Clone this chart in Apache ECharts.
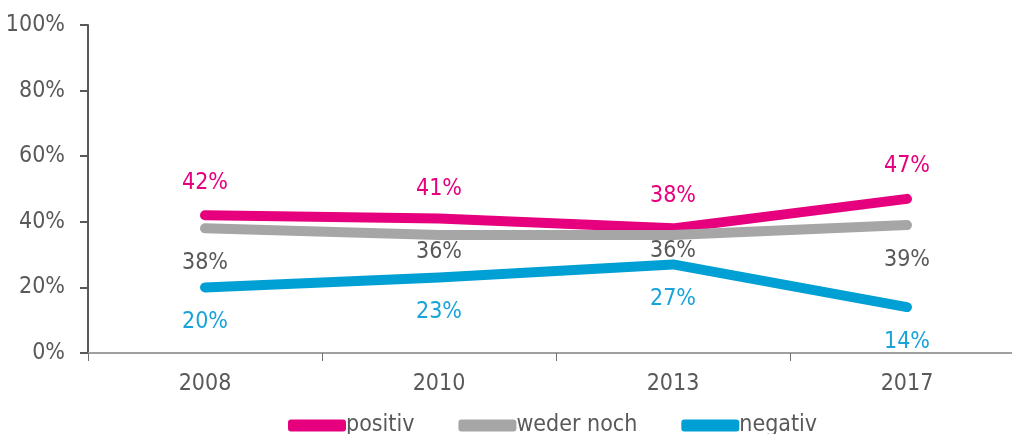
<!DOCTYPE html>
<html><head><meta charset="utf-8">
<script src="https://cdn.jsdelivr.net/npm/echarts@6/dist/echarts.min.js"></script>
<style>html,body{margin:0;padding:0;background:#fff;overflow:hidden;width:1012px;height:434px}#c{width:1024px;height:434px}</style>
</head><body><div id="c"></div>
<script>
const categories = ['2008', '2010', '2013', '2017'];
const positiv = [42, 41, 38, 47];
const wederNoch = [38, 36, 36, 39];
const negativ = [20, 23, 27, 14];
const yTicks = [0, 20, 40, 60, 80, 100];

const FONT = '"DejaVu Sans Condensed", "Liberation Sans Narrow", "Liberation Sans", Arial, sans-serif';
const chart = echarts.init(document.getElementById('c'), null, {renderer: 'canvas'});

const COLORS = {positiv: '#e6007e', 'weder noch': '#a6a6a6', negativ: '#009fd4'};

function mkSeries(name, data, labelColor, pos, dist, overrides) {
  const color = COLORS[name];
  return {
    name, type: 'line', data: data.map((v, i) => {
      const o = {value: v};
      if (overrides && overrides[i] != null) o.label = {distance: overrides[i]};
      return o;
    }),
    symbol: 'circle', symbolSize: 2, showSymbol: true,
    lineStyle: {color, width: 10, cap: 'round', join: 'round'},
    itemStyle: {color: 'rgba(0,0,0,0)'},
    label: {show: true, position: pos, distance: dist, formatter: '{c}%', color: labelColor,
      fontFamily: FONT, fontSize: 23},
    labelLayout: {hideOverlap: false},
    emphasis: {disabled: true}
  };
}

chart.setOption({
  animation: false,
  grid: {left: 88, right: 0, top: 25, bottom: 81, containLabel: false},
  legend: {
    top: 409, left: 283, itemGap: 44, itemWidth: 58, itemHeight: 12,
    icon: 'roundRect',
    textStyle: {fontFamily: FONT, fontSize: 23, color: '#595959', padding: [0, 0, 0, -5]},
    data: Object.keys(COLORS).map(n => ({name: n, itemStyle: {color: COLORS[n]}}))
  },
  xAxis: {
    type: 'category', data: categories, boundaryGap: true,
    axisLine: {lineStyle: {color: '#a0a0a0', width: 2}},
    axisTick: {show: true, length: 8, lineStyle: {color: '#707070', width: 1}},
    axisLabel: {fontFamily: FONT, fontSize: 23, color: '#595959', margin: 20}
  },
  yAxis: {
    type: 'value', min: 0, max: 100, interval: 20,
    splitLine: {show: false},
    axisLine: {show: true, lineStyle: {color: '#595959', width: 2}},
    axisTick: {show: true, length: 8, lineStyle: {color: '#595959', width: 2}},
    axisLabel: {fontFamily: FONT, fontSize: 23, color: '#595959', margin: 23,
      formatter: v => yTicks.includes(v) ? v + '%' : ''}
  },
  series: [
    mkSeries('positiv', positiv, '#e6007e', 'top', 20, [null, 17, null, null]),
    mkSeries('weder noch', wederNoch, '#595959', 'bottom', 22, [null, 5, 4, null]),
    mkSeries('negativ', negativ, '#1aa3d9', 'bottom', 22)
  ]
});
</script></body></html>
